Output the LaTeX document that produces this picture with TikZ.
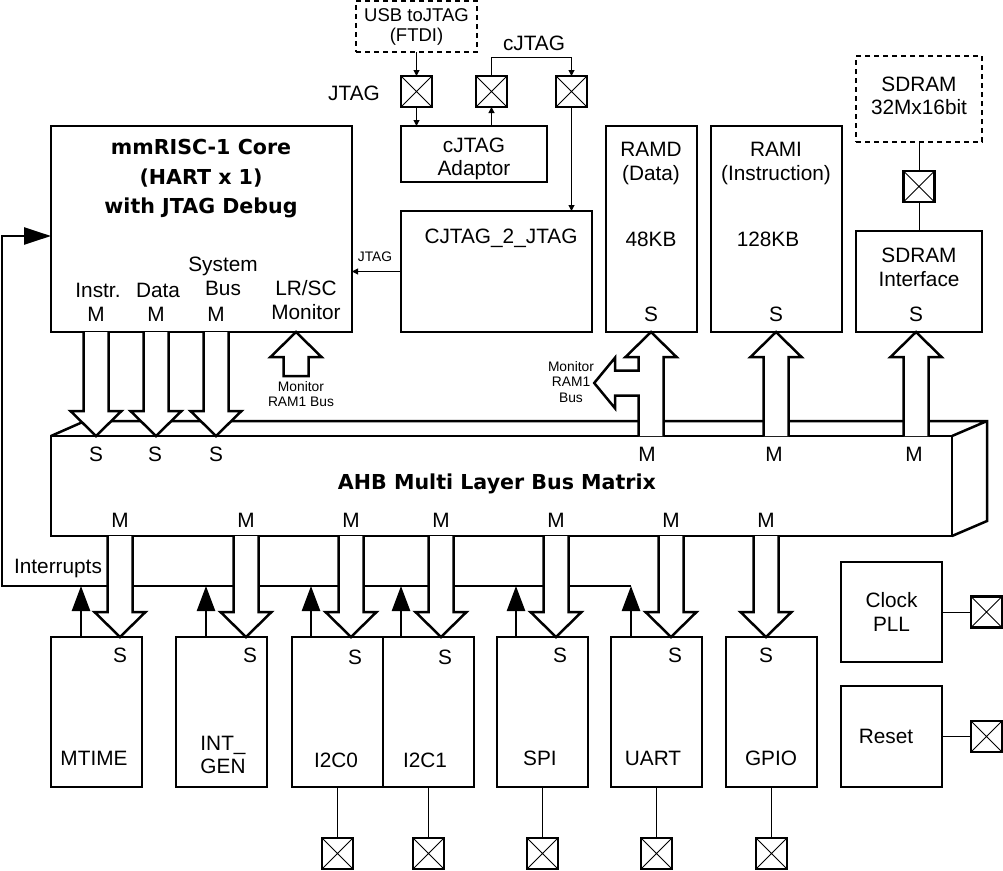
\documentclass[tikz,border=0pt]{standalone}
\usepackage{fontspec}
\setmainfont{Liberation Sans}
\newfontfamily\heavyfont{DejaVu Sans}
\usetikzlibrary{arrows.meta,calc,positioning}

\tikzset{
  txt/.style={font=\fontsize{20.8}{23.5}\selectfont,inner sep=0pt,align=center},
  smalltxt/.style={font=\fontsize{13.8}{15.5}\selectfont,inner sep=0pt,align=center},
  heavytxt/.style={font=\heavyfont\bfseries\fontsize{20.6}{29.5}\selectfont,inner sep=0pt,align=center},
  blk/.style={draw,line width=2.5pt,outer sep=0pt,inner sep=0pt,align=center,
    font=\fontsize{20.8}{23.5}\selectfont},
  extblk/.style={blk,dash pattern=on 5pt off 4pt},
  periph/.style={blk,minimum width=91pt,minimum height=150pt},
  padbox/.style={draw,line width=2.2pt,outer sep=0pt,inner sep=0pt,minimum size=31pt,
    path picture={\draw[line width=0.8pt]
      (path picture bounding box.north west) -- (path picture bounding box.south east)
      (path picture bounding box.north east) -- (path picture bounding box.south west);}},
  wire/.style={line width=1pt},
  sig/.style={wire,-{Triangle[length=6pt,width=6pt]}},
  irq/.style={line width=2.5pt},
  irqin/.style={irq,-{Triangle[length=25pt,width=18pt]}},
  irqcore/.style={irq,-{Triangle[length=27pt,width=17pt]}},
  fatbus/.style={draw,line width=2.5pt,fill=white,line join=miter}
}

% hollow bus arrow from #2 to #3, #1 closes the tail
\def\fathead{25}
\newcommand\fatarrow[3][]{%
  \path let \p1=($(#3)-(#2)$) in \pgfextra{%
    \pgfmathsetmacro\fatang{atan2(\y1,\x1)}%
    \pgfmathsetmacro\fatlen{veclen(\x1,\y1)}%
    \xdef\fatang{\fatang}\xdef\fatlen{\fatlen}};
  \begin{scope}[shift={(#2)},rotate=\fatang]
    \draw[fatbus] (0,12.5) -- (\fatlen-\fathead,12.5) -- (\fatlen-\fathead,25.5) -- (\fatlen,0)
      -- (\fatlen-\fathead,-25.5) -- (\fatlen-\fathead,-12.5) -- (0,-12.5) #1;
  \end{scope}}

\begin{document}
\begin{tikzpicture}[x=1pt,y=-1pt]
  \useasboundingbox (0,0) rectangle (1003,870);

  % core
  \node[blk,minimum width=301pt,minimum height=206pt] (core) at (201.5,229) {};
  \node[heavytxt] (coretitle) at (201,179) {mmRISC-1 Core\\(HART x 1)\\with JTAG Debug};
  \node[txt] (instr) at (98,290) {Instr.};
  \node[txt] (mI) at (96,314) {M};
  \node[txt] (data) at (158,290) {Data};
  \node[txt] (mD) at (156,314) {M};
  \node[txt] (sysbus) at (223,276.5) {System\\Bus};
  \node[txt] (mS) at (216,314) {M};
  \node[txt] (lrsc) at (306,300) {LR/SC\\Monitor};

  % debug path
  \node[extblk,minimum width=121pt,minimum height=51pt,
    font=\fontsize{18.5}{20}\selectfont] (usb) at (416.5,26.5) {USB toJTAG\\(FTDI)};
  \node[padbox] (padjtag) at (416.5,91.5) {};
  \node[padbox] (padcj1) at (491.5,91.5) {};
  \node[padbox] (padcj2) at (571.5,91.5) {};
  \node[txt] (jtaglab) at (354,93) {JTAG};
  \node[txt] (cjtaglab) at (534,43) {cJTAG};
  \node[blk,minimum width=146pt,minimum height=56pt] (adaptor) at (474,154) {};
  \node[txt] (adaptorname) at (474,159) {cJTAG\\Adaptor};
  \node[blk,minimum width=191pt,minimum height=121pt] (cj2j) at (496.5,271.5) {};
  \node[txt] (cj2jname) at (501,238) {CJTAG\_2\_JTAG};
  \node[smalltxt] (jtagsmall) at (375,257) {JTAG};
  \draw[sig] (usb) -- (padjtag);
  \draw[sig] (padjtag) -- (padjtag |- adaptor.north);
  \draw[sig] (adaptor.north -| padcj1) -- (padcj1);
  \draw[sig] (padcj1.north) -- ++(0,-19) -| (padcj2.north);
  \draw[sig] (padcj2) -- (padcj2 |- cj2j.north);
  \draw[sig] (cj2j.west) -- (cj2j.west -| core.east);

  % memories
  \node[blk,minimum width=91pt,minimum height=206pt] (ramd) at (651.5,229) {};
  \node[txt] (ramdname) at (651,163.5) {RAMD\\(Data)};
  \node[txt] (ramdsize) at (651,239) {48KB};
  \node[txt] (sD) at (651,314) {S};
  \node[blk,minimum width=131pt,minimum height=206pt] (rami) at (776.5,229) {};
  \node[txt] (raminame) at (776,163.5) {RAMI\\(Instruction)};
  \node[txt] (ramisize) at (768,239) {128KB};
  \node[txt] (sI) at (776,314) {S};
  \node[extblk,minimum width=126pt,minimum height=86pt] (sdram) at (919,99) {};
  \node[txt] (sdramname) at (919,96) {SDRAM\\32Mx16bit};
  \node[padbox,below=29pt of sdram] (padsdram) {};
  \node[blk,minimum width=126pt,minimum height=101pt] (sdramif) at (919,281.5) {};
  \node[txt] (sdramifname) at (919,267.5) {SDRAM\\Interface};
  \node[txt] (sSd) at (916,314) {S};
  \draw[wire] (sdram) -- (padsdram);
  \draw[wire] (padsdram) -- (sdramif);

  % bus matrix
  \node[blk,minimum width=901pt,minimum height=100pt,
    font=\heavyfont\bfseries\fontsize{20.6}{24}\selectfont] (ahb) at (501.5,486) {};
  \node[heavytxt] (ahbname) at (497,484) {AHB Multi Layer Bus Matrix};
  \draw[line width=2.5pt,line join=miter] (ahb.north west) -- ++(34,-15)
    -- ($(ahb.north east)+(35,-15)$) -- ($(ahb.south east)+(35,-15)$) -- (ahb.south east)
    (ahb.north east) -- ++(35,-15);
  \foreach \n/\x in {ahbS1/96,ahbS2/155,ahbS3/216}
    \node[txt] (\n) at (\x,454) {S};
  \foreach \n/\x in {ahbM1/647,ahbM2/774,ahbM3/914}
    \node[txt] (\n) at (\x,454) {M};
  \foreach \n/\x in {bm1/120,bm2/246,bm3/351,bm4/441,bm5/556,bm6/671,bm7/766}
    \node[txt] (\n) at (\x,520) {M};

  % peripherals
  \node[periph] (mtime) at (96.5,712) {};
  \node[periph,right=34pt of mtime] (intgen) {};
  \node[periph,right=25pt of intgen] (i2c0) {};
  \node[periph,right=0pt of i2c0] (i2c1) {};
  \node[periph,right=23pt of i2c1] (spi) {};
  \node[periph,right=23pt of spi] (uart) {};
  \node[periph,right=24pt of uart] (gpio) {};
  \node[txt] (mtimename) at (94,758) {MTIME};
  \node[txt] (intgenname) at (223,755) {INT\_\\GEN};
  \node[txt] (i2c0name) at (336,760) {I2C0};
  \node[txt] (i2c1name) at (425,760) {I2C1};
  \node[txt] (spiname) at (540,758) {SPI};
  \node[txt] (uartname) at (653,758) {UART};
  \node[txt] (gpioname) at (771,758) {GPIO};
  \foreach \n/\x/\y in {sp1/120/655,sp2/250/655,sp3/355/657,sp4/445/657,sp5/560/655,sp6/675/655,sp7/766/655}
    \node[txt] (\n) at (\x,\y) {S};
  \foreach \q in {i2c0,i2c1,spi,uart,gpio}{
    \node[padbox,below=51pt of \q] (pad\q) {};
    \draw[wire] (\q) -- (pad\q);
  }

  % clock and reset
  \node[blk,minimum width=101pt,minimum height=100pt] (clk) at (891.5,612) {Clock\\PLL};
  \node[padbox,right=29pt of clk] (padclk) {};
  \node[blk,minimum width=101pt,minimum height=101pt] (rst) at (891.5,736.5) {};
  \node[txt] (rstname) at (886,736) {Reset};
  \node[padbox,right=29pt of rst] (padrst) {};
  \draw[wire] (clk) -- (padclk);
  \draw[wire] (rst) -- (padrst);

  % interrupts
  \coordinate (irqend) at (631,586);
  \coordinate (irqcorner) at (2,586);
  \coordinate (coreirq) at (51,236);
  \node[txt] (irqlab) at (58,568) {Interrupts};
  \draw[irqcore] (irqend) -- (irqcorner) |- (coreirq);
  \foreach \q/\dx in {mtime/30,intgen/30,i2c0/19,i2c1/18,spi/19,uart/20}
    \draw[irqin] ($(\q.north west)+(\dx,0)$) -- ($(\q.west |- irqend)+(\dx,0)$);

  % bus arrows
  \foreach \m in {mI,mD,mS}
    \fatarrow{core.south -| \m}{ahb.north -| \m};
  \coordinate (lrtail) at (296,376);
  \fatarrow[-- cycle]{lrtail}{core.south -| lrtail};
  \node[smalltxt] (lrmon) at (301,394) {Monitor\\RAM1 Bus};
  \foreach \m/\q in {bm1/mtime,bm2/intgen,bm3/i2c0,bm4/i2c1,bm5/spi,bm6/uart,bm7/gpio}
    \fatarrow{ahb.south -| \m}{\q.north -| \m};
  \foreach \s/\r in {sD/ramd,sI/rami,sSd/sdramif}
    \fatarrow{ahb.north -| \s}{\r.south -| \s};
  \node[smalltxt] (monram) at (571,382) {Monitor\\RAM1\\Bus};
  \coordinate (ramdtap) at (639.75,383);
  \def\fathead{21}
  \fatarrow{ramdtap}{monram.east |- ramdtap};
\end{tikzpicture}
\end{document}
